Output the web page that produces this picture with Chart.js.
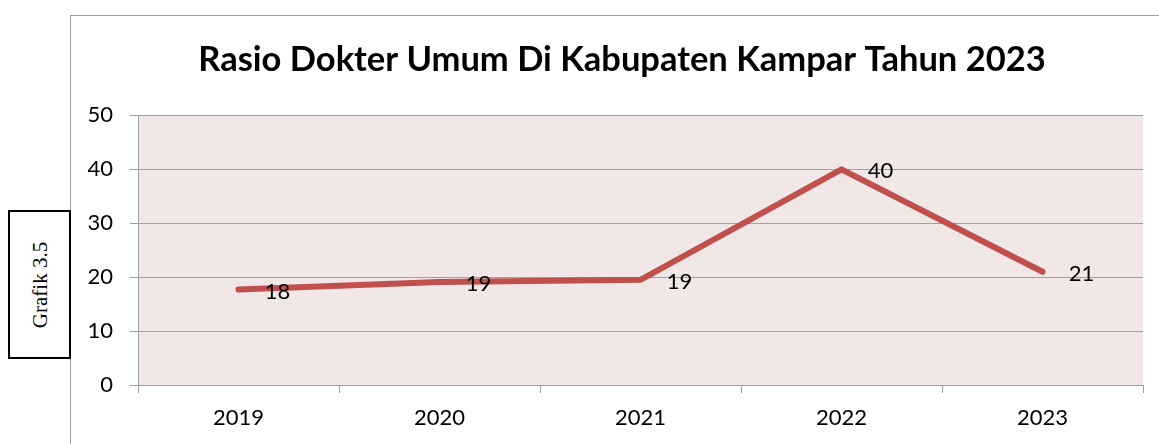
<!DOCTYPE html>
<html>
    <head>
        <meta charset="utf-8">
        <title>Rasio Dokter Umum</title>
        <script src="https://cdn.jsdelivr.net/npm/chart.js@4.4.0/dist/chart.umd.min.js"></script>
        <style>
            body { margin: 0; background: #fff; }
            #wrap { position: relative; width: 1159px; height: 444px; overflow: hidden; }
            #frame { position: absolute; left: 70px; top: 15px; right: -2px; bottom: -2px; border: 1px solid #a0a0a0; }
            #label { position: absolute; left: 8px; top: 210px; width: 59px; height: 145px; border: 2px solid #000; background: #fff; }
            #label span { position: absolute; left: 50%; top: 50%; transform: translate(-50%, -50%) rotate(-90deg);
                white-space: nowrap; font-family: "Liberation Serif", serif; font-size: 21px; }
            canvas { position: absolute; left: 0; top: 0; }
        </style>
    </head>
    <body>
        <div id="wrap">
            <div id="frame"></div>
            <canvas id="chart" width="1159" height="444"></canvas>
            <div id="label"><span>Grafik 3.5</span></div>
        </div>
        <script>
            const years = ['2019', '2020', '2021', '2022', '2023'];
            const rasio = [17.7, 19.1, 19.5, 40.0, 21.0];
            const rasioLabels = ['18', '19', '19', '40', '21'];
            const titleText = 'Rasio Dokter Umum Di Kabupaten Kampar Tahun 2023';

            // pink plot area
            const plotBg = {
                id: 'plotBg',
                beforeDraw(chart) {
                    const a = chart.chartArea;
                    const ctx = chart.ctx;
                    ctx.save();
                    ctx.fillStyle = '#f2e7e7';
                    ctx.fillRect(a.left, a.top, a.right - a.left, a.bottom - a.top);
                    ctx.restore();
                }
            };

            // y tick labels sit left of the padded area, so widen the label clip box
            const widenY = {
                id: 'widenY',
                afterLayout(chart) {
                    chart.scales.y.left = 72;
                }
            };

            // value labels to the right of each point
            const valueLabels = {
                id: 'valueLabels',
                afterDatasetsDraw(chart) {
                    const ctx = chart.ctx;
                    const meta = chart.getDatasetMeta(0);
                    ctx.save();
                    ctx.font = '22px Lato';
                    ctx.fillStyle = '#000';
                    ctx.textAlign = 'center';
                    ctx.textBaseline = 'middle';
                    meta.data.forEach((pt, i) => {
                        ctx.fillText(rasioLabels[i], pt.x + 39, pt.y + 2);
                    });
                    ctx.restore();
                }
            };

            Chart.defaults.font.family = 'Lato';
            Chart.defaults.color = '#000';

            const ctx = document.getElementById('chart').getContext('2d');
            const myChart = new Chart(ctx, {
                type: 'line',
                data: {
                    labels: years,
                    datasets: [{
                        label: 'Rasio',
                        data: rasio,
                        borderColor: '#c0504d',
                        borderWidth: 6,
                        borderCapStyle: 'round',
                        borderJoinStyle: 'miter',
                        pointRadius: 0,
                        tension: 0,
                        fill: false
                    }]
                },
                options: {
                    responsive: false,
                    animation: false,
                    layout: { padding: { left: 101, right: 16, top: 0, bottom: 0 } },
                    plugins: {
                        legend: { display: false },
                        tooltip: { enabled: false },
                        title: {
                            display: true,
                            text: titleText,
                            font: { size: 34.5, weight: 'bold' },
                            color: '#000',
                            padding: { top: 39, bottom: 35 }
                        }
                    },
                    scales: {
                        x: {
                            offset: true,
                            grid: { offset: true, drawOnChartArea: false, tickLength: 8, color: '#a0a0a0' },
                            border: { color: '#a0a0a0' },
                            ticks: { font: { size: 22 }, padding: 12, maxRotation: 0 },
                            afterFit(scale) { scale.height = 59; }
                        },
                        y: {
                            min: 0,
                            max: 50,
                            ticks: { stepSize: 10, font: { size: 22 }, padding: 17 },
                            grid: { tickLength: 8, color: '#a0a0a0' },
                            border: { color: '#a0a0a0' },
                            afterFit(scale) { scale.width = 37; }
                        }
                    }
                },
                plugins: [plotBg, widenY, valueLabels]
            });
        </script>
    </body>
</html>
